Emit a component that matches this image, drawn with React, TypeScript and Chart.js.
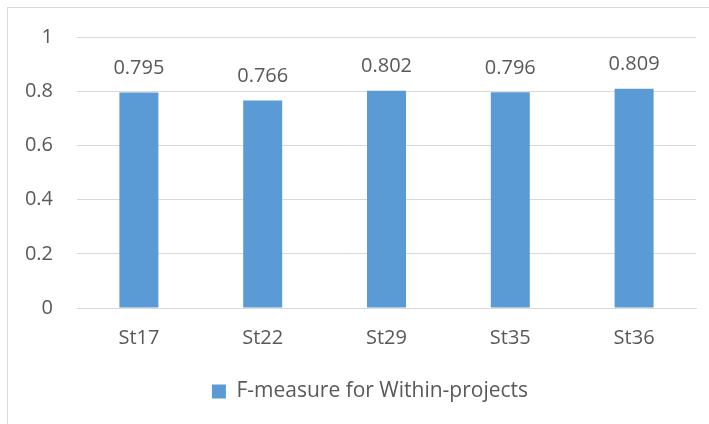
import React, { useEffect, useRef } from "react";
import { Chart, registerables } from "chart.js";

Chart.register(...registerables);

const categories = ["St17", "St22", "St29", "St35", "St36"];
const values = [0.795, 0.766, 0.802, 0.796, 0.809];
const valueLabels = ["0.795", "0.766", "0.802", "0.796", "0.809"];
const seriesName = "F-measure for Within-projects";

const FONT = "'Open Sans', 'Noto Sans', sans-serif";
const TEXT = "#595959";

const borderPlugin = {
  id: "outerBorder",
  beforeDraw(chart: any) {
    const ctx = chart.ctx;
    ctx.save();
    ctx.fillStyle = "#ffffff";
    ctx.fillRect(0, 0, chart.width, chart.height);
    ctx.strokeStyle = "#d9d9d9";
    ctx.lineWidth = 1;
    ctx.strokeRect(7.5, 7.5, chart.width + 10, chart.height + 10);
    ctx.restore();
  },
  afterLayout(chart: any) {
    if (chart.legend) chart.legend.left = 44;
  },
};

const valueLabelPlugin = {
  id: "valueLabels",
  afterDatasetsDraw(chart: any) {
    const ctx = chart.ctx;
    const meta = chart.getDatasetMeta(0);
    ctx.save();
    ctx.font = `20px ${FONT}`;
    ctx.fillStyle = TEXT;
    ctx.textAlign = "center";
    ctx.textBaseline = "middle";
    meta.data.forEach((bar: any, i: number) => {
      ctx.fillText(valueLabels[i], bar.x, bar.y - 24);
    });
    ctx.restore();
  },
};

export default function App() {
  const ref = useRef<HTMLCanvasElement>(null);
  useEffect(() => {
    if (!ref.current) return;
    const chart = new Chart(ref.current, {
      type: "bar",
      data: {
        labels: categories,
        datasets: [
          {
            label: seriesName,
            data: values,
            backgroundColor: "#5B9BD5",
            borderWidth: 0,
            barPercentage: 0.315,
            categoryPercentage: 1,
          },
        ],
      },
      options: {
        animation: false,
        responsive: false,
        maintainAspectRatio: false,
        layout: { padding: { left: 0, right: 13, top: 37, bottom: 12 } },
        plugins: {
          legend: {
            position: "bottom",
            labels: {
              font: { family: FONT, size: 21 },
              color: TEXT,
              boxWidth: 14,
              boxHeight: 14,
              padding: 9,
            },
          },
          tooltip: { enabled: false },
        },
        scales: {
          x: {
            grid: { display: false, drawTicks: false },
            border: { color: "#d9d9d9", width: 1 },
            ticks: {
              font: { family: FONT, size: 20 },
              color: TEXT,
              padding: 18,
            },
            afterFit(scale: any) {
              scale.height = 64;
            },
          },
          y: {
            min: 0,
            max: 1,
            ticks: {
              stepSize: 0.2,
              font: { family: FONT, size: 20 },
              color: TEXT,
              padding: 24,
              callback: (v: any) => String(Number(Number(v).toFixed(1))),
            },
            grid: { color: "#d9d9d9", lineWidth: 1, drawTicks: false },
            border: { display: false },
            afterFit(scale: any) {
              scale.width = 77;
            },
          },
        },
      },
      plugins: [borderPlugin, valueLabelPlugin],
    });
    return () => chart.destroy();
  }, []);
  return (
    <div style={{ position: "fixed", left: 0, top: 0, width: 709, height: 424 }}>
      <canvas ref={ref} width={709} height={424} />
    </div>
  );
}
